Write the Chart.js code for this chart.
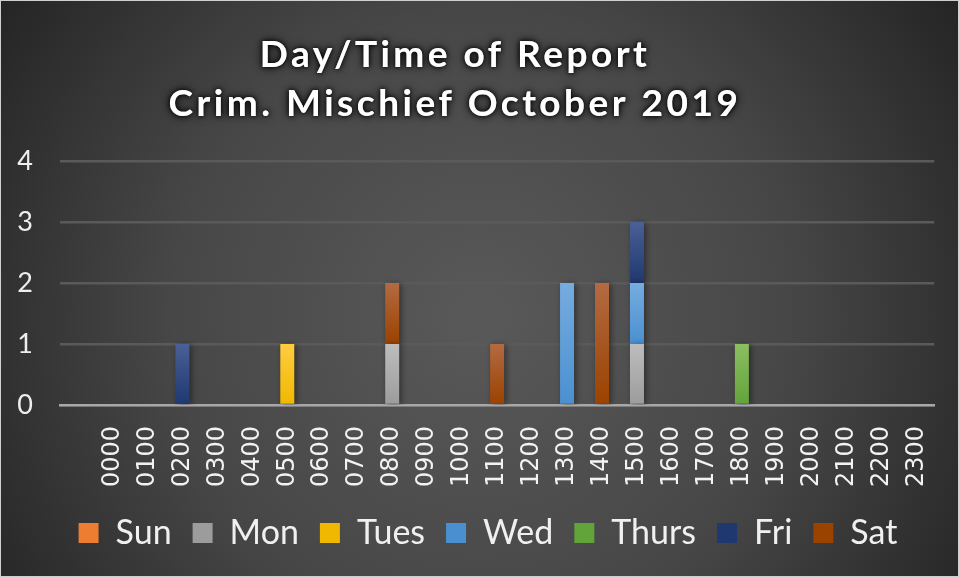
<!DOCTYPE html>
<html>
<head>
<meta charset="utf-8">
<script src="https://cdn.jsdelivr.net/npm/chart.js@4"></script>
<style>
html,body{margin:0;padding:0;background:#2b2b2b;}
</style>
</head>
<body>
<canvas id="chart" width="959" height="577"></canvas>
<script>
// first category is blank in the source sheet
const hours=["","0000","0100","0200","0300","0400","0500","0600","0700","0800","0900","1000","1100",
"1200","1300","1400","1500","1600","1700","1800","1900","2000","2100","2200","2300"];

const sun  =[0,0,0,0,0,0,0,0,0,0,0,0,0,0,0,0,0,0,0,0,0,0,0,0,0];
const mon  =[0,0,0,0,0,0,0,0,0,1,0,0,0,0,0,0,1,0,0,0,0,0,0,0,0];
const tues =[0,0,0,0,0,0,1,0,0,0,0,0,0,0,0,0,0,0,0,0,0,0,0,0,0];
const wed  =[0,0,0,0,0,0,0,0,0,0,0,0,0,0,2,0,1,0,0,0,0,0,0,0,0];
const thurs=[0,0,0,0,0,0,0,0,0,0,0,0,0,0,0,0,0,0,0,1,0,0,0,0,0];
const fri  =[0,0,0,1,0,0,0,0,0,0,0,0,0,0,0,0,1,0,0,0,0,0,0,0,0];
const sat  =[0,0,0,0,0,0,0,0,0,1,0,0,1,0,0,2,0,0,0,0,0,0,0,0,0];

const yTicks=[0,1,2,3,4];
const titleLines=["Day/Time of Report","Crim. Mischief October 2019"];

function segFill(base,light){
return function(ctx){
if(ctx.type!=="data")return base;
const chart=ctx.chart;
if(!chart.chartArea||!chart.scales.y)return base;
const i=ctx.dataIndex,d=ctx.datasetIndex;
let start=0;
for(let k=0;k<d;k++)start+=chart.data.datasets[k].data[i];
const end=start+chart.data.datasets[d].data[i];
const y0=chart.scales.y.getPixelForValue(start);
const y1=chart.scales.y.getPixelForValue(end);
if(Math.abs(y0-y1)<1)return base;
const g=chart.ctx.createLinearGradient(0,y1,0,y0);
g.addColorStop(0,light);
g.addColorStop(1,base);
return g;
};
}

function ds(label,data,base,light){
return{label:label,data:data,backgroundColor:segFill(base,light),borderWidth:0,
barPercentage:0.4,categoryPercentage:1,yAxisID:"y"};
}

const bgPlugin={
id:"bg",
beforeDraw(chart){
const c=chart.ctx,w=chart.width,h=chart.height;
const g=c.createRadialGradient(w*0.5,h*0.55,20,w*0.5,h*0.55,w*0.62);
g.addColorStop(0,"#585858");
g.addColorStop(0.5,"#474747");
g.addColorStop(1,"#222222");
c.save();
c.fillStyle=g;
c.fillRect(0,0,w,h);
c.strokeStyle="#d0d0d0";
c.lineWidth=1;
c.strokeRect(0.5,0.5,w-1,h-1);
c.restore();
}
};

const shadowPlugin={
id:"barShadow",
beforeDatasetsDraw(chart){
const c=chart.ctx;
c.save();
c.shadowColor="rgba(0,0,0,0.45)";
c.shadowBlur=6;
c.shadowOffsetX=2;
c.shadowOffsetY=1;
},
afterDatasetsDraw(chart){
chart.ctx.restore();
}
};

const titlePlugin={
id:"glowTitle",
afterDraw(chart){
const c=chart.ctx;
c.save();
c.font="bold 37px Lato";
c.letterSpacing="3.5px";
c.textAlign="center";
c.textBaseline="middle";
c.fillStyle="#ffffff";
c.shadowColor="rgba(0,0,0,1)";
c.shadowBlur=10;
c.fillText(titleLines[0],455,55);
c.fillText(titleLines[1],455,104);
c.shadowBlur=4;
c.fillText(titleLines[0],455,55);
c.fillText(titleLines[1],455,104);
c.restore();
}
};

new Chart(
document.getElementById("chart"),
{
type:"bar",
data:{
labels:hours,
datasets:[
ds("Sun",sun,"#ED7D31","#F4A072"),
ds("Mon",mon,"#9C9C9C","#BDBDBD"),
ds("Tues",tues,"#F0B800","#FFCC40"),
ds("Wed",wed,"#4A90D0","#76ACE0"),
ds("Thurs",thurs,"#62A33A","#8BBF62"),
ds("Fri",fri,"#1F3870","#4A6096"),
ds("Sat",sat,"#9A4200","#B46A42")
]
},
plugins:[bgPlugin,shadowPlugin,titlePlugin],
options:{
responsive:false,
animation:false,
layout:{padding:{top:161,left:17,right:0,bottom:17}},
plugins:{
title:{display:false},
tooltip:{enabled:false},
legend:{
position:"bottom",
labels:{
color:"#f0f0f0",
font:{family:"Lato",size:34},
boxWidth:20,
boxHeight:20,
padding:21
}
}
},
scales:{
x:{
stacked:true,
grid:{display:false},
border:{display:true,color:"#a8a8a8",width:2.5},
ticks:{
color:"#f2f2f2",
font:{family:"DejaVu Sans",size:24},
minRotation:90,
maxRotation:90,
padding:13,
autoSkip:false
},
afterFit(axis){axis.height=90;}
},
y:{
stacked:true,
min:0,
max:4,
afterBuildTicks(axis){axis.ticks=yTicks.map(v=>({value:v}));},
grid:{color:"#5a5a5a",lineWidth:2.5,drawTicks:false},
border:{display:false},
ticks:{
color:"#eeeeee",
font:{family:"Lato",size:27},
padding:27
},
afterFit(axis){axis.width=43;}
},
y2:{
position:"right",
display:true,
grid:{display:false},
border:{display:false},
ticks:{display:false},
afterFit(axis){axis.width=24;}
}
}
}
}
);
</script>
</body>
</html>
